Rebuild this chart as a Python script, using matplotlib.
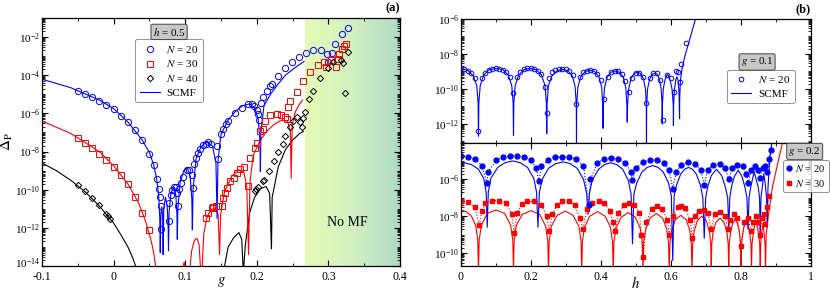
import numpy as np
import matplotlib
matplotlib.use("Agg")
import matplotlib.pyplot as plt
import matplotlib.transforms as mtransforms
from matplotlib.ticker import LogLocator, MultipleLocator, FuncFormatter, NullFormatter, LogFormatterSciNotation, FixedLocator
from matplotlib.colors import LinearSegmentedColormap

plt.rcParams['font.family'] = ['Liberation Serif', 'DejaVu Serif']
plt.rcParams['mathtext.fontset'] = 'stix'
plt.rcParams['axes.unicode_minus'] = False
plt.rcParams['font.size'] = 8

nan = np.nan

# ---------- panel (a): h = 0.5, values are log10(Delta_P) vs g ----------
a_n20 = [(-0.05, -4.80), (-0.04, -4.96), (-0.03, -5.14), (-0.02, -5.33), (-0.01, -5.54),
         (0.0, -5.78), (0.01, -6.12), (0.02, -6.47), (0.03, -6.85), (0.04, -7.40),
         (0.05, -8.11), (0.056, -8.69), (0.061, -9.44), (0.0634, -9.96), (0.0648, -10.38),
         (0.0657, -10.84), (0.0657, -12.07), (0.0769, -11.62), (0.0778, -10.71), (0.0797, -10.27),
         (0.082, -10.0), (0.0844, -9.88), (0.0872, -9.88), (0.089, -10.18), (0.0904, -10.84),
         (0.0918, -9.96), (0.0937, -9.65), (0.0965, -9.33), (0.1021, -8.95), (0.1058, -8.95),
         (0.110, -9.21), (0.1105, -9.91), (0.1128, -8.63), (0.1151, -8.33), (0.1184, -8.10),
         (0.1207, -7.89), (0.1245, -7.68), (0.1287, -7.58), (0.1324, -7.51), (0.1356, -7.58),
         (0.1440, -7.69), (0.1455, -8.38), (0.1501, -7.10), (0.1524, -6.80), (0.1566, -6.57),
         (0.1603, -6.40), (0.1696, -5.96), (0.1789, -5.70), (0.1882, -5.53), (0.1929, -5.53),
         (0.1961, -5.61), (0.1999, -5.82), (0.2022, -6.05), (0.2036, -6.37), (0.2059, -5.44),
         (0.2082, -5.16), (0.2138, -4.81), (0.2184, -4.54), (0.2208, -4.46), (0.2301, -4.02),
         (0.2394, -3.64), (0.2497, -3.28), (0.2590, -3.05), (0.2683, -2.81), (0.2790, -2.70),
         (0.2892, -2.70), (0.2976, -2.88), (0.2999, -3.30), (0.3046, -2.84), (0.3092, -2.35),
         (0.3185, -1.83), (0.3278, -1.51)]

a_n30 = [(-0.05, -7.31), (-0.04, -7.54), (-0.03, -7.80), (-0.02, -8.11), (-0.01, -8.46),
         (0.0, -8.80), (0.01, -9.22), (0.02, -9.71), (0.03, -10.37), (0.04, -11.20),
         (0.05, -12.13), (0.1291, -11.49), (0.1324, -11.23), (0.1370, -10.97), (0.1394, -10.91),
         (0.1431, -10.88), (0.1464, -10.84), (0.1510, -10.88), (0.1533, -10.44), (0.1557, -10.18),
         (0.1580, -9.91), (0.1626, -9.56), (0.1682, -9.39), (0.1720, -9.12), (0.1766, -8.91),
         (0.1822, -8.81), (0.1882, -9.79), (0.1906, -8.33), (0.1976, -7.81), (0.1999, -7.54),
         (0.2046, -6.93), (0.2091, -6.83), (0.2115, -6.40), (0.2184, -6.09), (0.2287, -6.04),
         (0.2334, -6.07), (0.2394, -6.21), (0.2427, -6.30), (0.2441, -5.65), (0.2464, -5.37),
         (0.2557, -4.86), (0.2650, -4.28), (0.2748, -3.84), (0.2850, -3.46), (0.2943, -3.28),
         (0.2966, -3.58), (0.3036, -3.18), (0.3106, -3.58), (0.3129, -3.14), (0.3153, -2.91),
         (0.3185, -2.61), (0.3213, -2.49), (0.3246, -2.35)]

a_n40 = [(-0.05, -9.77), (-0.04, -10.09), (-0.03, -10.46), (-0.02, -10.82), (-0.01, -11.26),
         (-0.008, -11.37), (-0.005, -11.53), (0.1975, -10.05), (0.1995, -9.95), (0.2015, -9.85),
         (0.2085, -9.55), (0.2100, -9.50), (0.2175, -9.00), (0.2240, -8.50), (0.2300, -8.00),
         (0.2360, -7.60), (0.2400, -7.20), (0.2470, -6.70), (0.2500, -6.40), (0.2560, -6.20),
         (0.2600, -6.45), (0.2625, -6.70), (0.2650, -6.25), (0.2680, -5.95), (0.2735, -5.25),
         (0.2790, -4.80), (0.2885, -4.13), (0.2990, -3.63), (0.3070, -3.30), (0.3170, -3.20),
         (0.3210, -3.35), (0.3232, -4.95), (0.3280, -2.78)]

a_mf20 = [(-0.100, -4.21), (-0.060, -4.65), (-0.020, -5.30), (0.000, -5.75), (0.020, -6.45),
          (0.040, -7.40), (0.050, -8.05), (0.056, -8.70), (0.060, -9.40), (0.0630, -10.3),
          (0.0645, -11.5), (0.0652, -13.3), (0.0660, -11.3), (0.0672, -10.9), (0.0685, -11.4),
          (0.0692, -13.4), (0.0700, -11.0), (0.0725, -10.4), (0.0750, -10.9), (0.0762, -12.0),
          (0.0767, -13.2), (0.0775, -11.2), (0.0800, -10.2), (0.0840, -9.85), (0.0870, -10.3),
          (0.0885, -11.3), (0.0890, -12.6), (0.0897, -11.0), (0.0930, -9.6), (0.0980, -9.0),
          (0.1030, -8.85), (0.1070, -9.3), (0.1093, -10.5), (0.1100, -12.1), (0.1110, -10.0),
          (0.1150, -8.4), (0.1220, -7.75), (0.1300, -7.5), (0.1380, -7.7), (0.1430, -8.6),
          (0.1445, -11.5), (0.1458, -8.5), (0.1500, -7.1), (0.1600, -6.35), (0.1700, -5.9),
          (0.1800, -5.6), (0.1900, -5.5), (0.1970, -5.7), (0.2020, -6.3), (0.2045, -7.5),
          (0.2050, -9.05), (0.2058, -7.0), (0.2100, -5.6), (0.2200, -4.95), (0.2300, -4.45),
          (0.2400, -4.0), (0.2500, -3.70), (0.2580, -3.48), (0.2660, -3.28)]

a_mf30 = [(-0.100, -6.40), (-0.060, -7.05), (-0.020, -8.0), (0.000, -8.75), (0.020, -9.7),
          (0.035, -10.7), (0.045, -11.7), (0.052, -12.6), (0.056, -13.3), (0.0595, -14.2),
          (nan, nan), (0.0965, -14.2), (0.0985, -13.8), (0.1005, -14.2),
          (nan, nan), (0.1065, -14.2), (0.1090, -13.2), (0.1130, -12.65), (0.1165, -12.55),
          (0.1195, -12.9), (0.1215, -14.2),
          (nan, nan), (0.1235, -14.2), (0.1260, -12.3), (0.1300, -11.5), (0.1360, -11.05),
          (0.1420, -10.95), (0.1460, -11.3), (0.1480, -13.4), (0.1495, -11.3), (0.1550, -10.1),
          (0.1650, -9.3), (0.1750, -8.95), (0.1820, -9.1), (0.1860, -9.8), (0.1885, -13.4),
          (0.1905, -9.6), (0.1950, -8.2), (0.2050, -7.4), (0.2150, -6.9), (0.2250, -6.55),
          (0.2350, -6.35), (0.2430, -6.4), (0.2470, -7.0), (0.2480, -9.4), (0.2495, -6.6),
          (0.2540, -5.9), (0.2600, -5.5), (0.2640, -5.3)]

a_mf40 = [(-0.100, -8.60), (-0.080, -9.0), (-0.060, -9.5), (-0.040, -10.1), (-0.020, -10.85),
          (0.000, -11.75), (0.010, -12.35), (0.020, -13.0), (0.027, -13.6), (0.0325, -14.2),
          (nan, nan), (0.1540, -14.2), (0.1600, -13.0), (0.1680, -12.5), (0.1750, -12.25),
          (0.1790, -12.6), (0.1810, -14.2),
          (nan, nan), (0.1815, -14.2), (0.1840, -12.9), (0.1900, -11.2), (0.1970, -10.4),
          (0.2050, -9.95), (0.2130, -9.83), (0.2180, -10.2), (0.2205, -13.1), (0.2215, -10.4),
          (0.2300, -8.8), (0.2400, -7.9), (0.2500, -7.4), (0.2600, -7.05), (0.2650, -6.95)]

no_mf_start = 0.267

# ---------- panel (b) top: g = 0.1, log10(Delta_P) vs h ----------
b1_n20 = [(0.00, -8.82), (0.01, -8.86), (0.02, -8.95), (0.03, -9.10), (0.04, -9.35),
          (0.05, -12.40), (0.06, -9.35), (0.07, -9.07), (0.08, -8.91), (0.09, -8.83),
          (0.10, -8.80), (0.11, -8.83), (0.12, -8.90), (0.13, -9.05), (0.14, -9.30),
          (0.15, -10.25), (0.16, -9.30), (0.17, -9.02), (0.18, -8.88), (0.19, -8.82),
          (0.20, -8.82), (0.21, -8.86), (0.22, -8.97), (0.23, -9.15), (0.24, -9.90),
          (0.245, -11.35), (0.252, -9.35), (0.26, -9.05), (0.27, -8.92), (0.28, -8.87),
          (0.29, -8.86), (0.30, -8.88), (0.31, -8.97), (0.32, -9.20), (0.33, -10.86),
          (0.34, -9.30), (0.35, -9.05), (0.36, -8.95), (0.37, -8.92), (0.38, -8.97),
          (0.39, -9.15), (0.40, -9.50), (0.41, -10.55), (0.42, -9.30), (0.43, -9.05),
          (0.44, -8.97), (0.45, -9.00), (0.46, -9.15), (0.47, -9.55), (0.48, -10.20),
          (0.49, -9.40), (0.50, -9.10), (0.51, -9.07), (0.52, -9.30), (0.53, -10.80),
          (0.54, -9.40), (0.55, -9.10), (0.56, -9.10), (0.57, -9.50), (0.578, -11.77),
          (0.59, -9.20), (0.60, -9.40), (0.61, -10.20), (0.615, -9.00), (0.62, -9.05),
          (0.625, -9.60), (0.63, -8.55), (0.643, -7.35)]

b1_mf = [(0.000, -8.82), (0.020, -8.95), (0.035, -9.25), (0.045, -9.8), (0.049, -10.8),
         (0.050, -12.7), (0.051, -10.8), (0.055, -9.8), (0.065, -9.2), (0.080, -8.90),
         (0.100, -8.82), (0.120, -8.90), (0.135, -9.2), (0.145, -9.8), (0.149, -10.8),
         (0.150, -12.65), (0.151, -10.8), (0.155, -9.8), (0.165, -9.2), (0.180, -8.9),
         (0.197, -8.82), (0.215, -8.9), (0.230, -9.2), (0.240, -9.8), (0.244, -10.8),
         (0.245, -12.55), (0.246, -10.8), (0.250, -9.8), (0.260, -9.25), (0.275, -8.95),
         (0.290, -8.88), (0.305, -8.95), (0.318, -9.25), (0.326, -9.85), (0.3295, -10.9),
         (0.330, -13.2), (0.3305, -10.9), (0.334, -9.9), (0.342, -9.3), (0.355, -9.0),
         (0.368, -8.92), (0.382, -9.0), (0.394, -9.3), (0.402, -9.9), (0.405, -10.9),
         (0.406, -12.25), (0.407, -10.9), (0.410, -9.95), (0.417, -9.35), (0.428, -9.05),
         (0.441, -8.97), (0.454, -9.05), (0.464, -9.35), (0.471, -9.95), (0.474, -10.9),
         (0.475, -11.9), (0.476, -10.9), (0.479, -10.0), (0.486, -9.4), (0.495, -9.1),
         (0.503, -9.05), (0.512, -9.1), (0.521, -9.4), (0.527, -10.0), (0.5295, -10.9),
         (0.530, -13.2), (0.5305, -10.9), (0.533, -10.0), (0.539, -9.45), (0.547, -9.15),
         (0.553, -9.1), (0.560, -9.15), (0.567, -9.45), (0.572, -10.0), (0.5745, -10.9),
         (0.575, -12.0), (0.5755, -10.9), (0.578, -10.0), (0.583, -9.45), (0.590, -9.15),
         (0.597, -9.45), (0.603, -10.0), (0.6065, -10.9), (0.607, -12.1), (0.6075, -10.9),
         (0.610, -10.0), (0.614, -9.45), (0.617, -9.3), (0.620, -9.5), (0.623, -10.2),
         (0.6245, -11.7), (0.625, -10.5), (0.627, -9.5), (0.632, -8.8), (0.640, -8.1),
         (0.650, -7.4), (0.660, -6.7), (0.670, -6.0), (0.680, -5.5)]

# ---------- panel (b) bottom: g = 0.2 ----------
b2_n20 = [(0.00, -4.72), (0.02, -4.76), (0.04, -4.90), (0.06, -5.25), (0.074, -6.2),
          (0.078, -5.6), (0.10, -4.95), (0.12, -4.78), (0.14, -4.72), (0.16, -4.72),
          (0.18, -4.78), (0.20, -4.95), (0.215, -5.4), (0.222, -6.1), (0.23, -5.3),
          (0.25, -4.95), (0.27, -4.80), (0.29, -4.76), (0.31, -4.80), (0.33, -4.92),
          (0.35, -5.25), (0.365, -7.4), (0.37, -6.0), (0.39, -5.1), (0.41, -4.88),
          (0.43, -4.85), (0.45, -4.90), (0.47, -5.1), (0.485, -5.6), (0.49, -6.05),
          (0.50, -5.4), (0.52, -5.05), (0.54, -4.95), (0.56, -4.95), (0.58, -5.1),
          (0.595, -5.5), (0.605, -6.5), (0.615, -5.6), (0.63, -5.2), (0.65, -5.08),
          (0.67, -5.15), (0.685, -5.5), (0.695, -6.3), (0.705, -5.5), (0.72, -5.2),
          (0.74, -5.15), (0.755, -5.4), (0.765, -6.0), (0.775, -5.4), (0.79, -5.2),
          (0.805, -5.3), (0.815, -5.7), (0.82, -6.2), (0.83, -5.5), (0.84, -5.3),
          (0.85, -5.5), (0.855, -5.9), (0.862, -5.4), (0.868, -5.25), (0.875, -5.6),
          (0.88, -4.9), (0.885, -4.4)]

b2_n30 = [(0.00, -7.17), (0.02, -7.24), (0.04, -7.5), (0.052, -8.5), (0.06, -7.7),
          (0.07, -7.3), (0.09, -7.15), (0.11, -7.15), (0.13, -7.3), (0.145, -7.9),
          (0.152, -8.9), (0.16, -7.8), (0.175, -7.35), (0.19, -7.2), (0.21, -7.2),
          (0.23, -7.4), (0.245, -8.0), (0.252, -8.8), (0.26, -7.9), (0.275, -7.4),
          (0.29, -7.2), (0.31, -7.2), (0.325, -7.4), (0.34, -8.1), (0.348, -8.7),
          (0.36, -7.6), (0.375, -7.3), (0.395, -7.2), (0.41, -7.3), (0.425, -7.7),
          (0.433, -8.3), (0.44, -8.8), (0.45, -7.8), (0.465, -7.4), (0.48, -7.3),
          (0.495, -7.4), (0.51, -7.8), (0.515, -9.0), (0.52, -10.2), (0.53, -8.3),
          (0.545, -7.6), (0.56, -7.45), (0.575, -7.6), (0.59, -8.2), (0.595, -9.0),
          (0.605, -8.0), (0.62, -7.5), (0.63, -7.45), (0.64, -7.55), (0.655, -8.2),
          (0.66, -9.2), (0.67, -8.0), (0.68, -7.7), (0.695, -7.65), (0.705, -7.85),
          (0.715, -8.7), (0.725, -7.9), (0.74, -7.75), (0.755, -8.0), (0.762, -8.7),
          (0.77, -8.2), (0.78, -7.9), (0.79, -8.1), (0.80, -9.6), (0.81, -8.3),
          (0.82, -8.1), (0.828, -8.8), (0.835, -8.3), (0.842, -8.0), (0.85, -8.3),
          (0.855, -9.0), (0.86, -8.1), (0.865, -7.9), (0.87, -8.4), (0.875, -7.5),
          (0.88, -6.9)]

b2_mf20 = [(0.000, -5.05), (0.030, -5.2), (0.050, -5.45), (0.065, -5.95), (0.072, -6.7),
           (0.075, -8.6), (0.078, -6.7), (0.085, -5.95), (0.105, -5.35), (0.125, -5.1),
           (0.148, -5.0), (0.170, -5.1), (0.190, -5.35), (0.208, -5.95), (0.216, -6.7),
           (0.220, -8.6), (0.224, -6.7), (0.232, -6.0), (0.250, -5.4), (0.270, -5.15),
           (0.292, -5.05), (0.312, -5.15), (0.332, -5.4), (0.350, -6.0), (0.359, -6.75),
           (0.363, -7.9), (0.367, -6.75), (0.375, -6.05), (0.393, -5.45), (0.410, -5.2),
           (0.427, -5.1), (0.445, -5.2), (0.462, -5.45), (0.478, -6.05), (0.486, -6.8),
           (0.490, -9.5), (0.494, -6.8), (0.502, -6.2), (0.517, -5.6), (0.532, -5.35),
           (0.548, -5.25), (0.563, -5.35), (0.578, -5.6), (0.593, -6.2), (0.601, -6.9),
           (0.605, -10.4), (0.609, -6.9), (0.616, -6.3), (0.628, -5.7), (0.639, -5.45),
           (0.650, -5.35), (0.661, -5.45), (0.672, -5.7), (0.684, -6.3), (0.691, -7.0),
           (0.695, -9.2), (0.699, -7.0), (0.705, -6.4), (0.715, -5.8), (0.730, -5.45),
           (0.745, -5.8), (0.755, -6.4), (0.762, -7.0), (0.765, -8.7), (0.768, -7.0),
           (0.773, -6.4), (0.781, -5.85), (0.792, -5.5), (0.803, -5.85), (0.811, -6.4),
           (0.817, -7.0), (0.820, -8.7), (0.823, -7.0), (0.828, -6.4), (0.834, -5.9),
           (0.8375, -5.6), (0.842, -5.9), (0.849, -6.4), (0.853, -7.0), (0.855, -9.2),
           (0.857, -7.0), (0.861, -6.4), (0.865, -5.7), (0.869, -6.2), (0.873, -7.0),
           (0.875, -8.6), (0.877, -6.5), (0.880, -5.5), (0.884, -4.6), (0.889, -3.9)]

b2_mf30 = [(0.000, -7.66), (0.015, -7.75), (0.030, -8.0), (0.042, -8.5), (0.048, -9.3),
           (0.050, -11), (0.052, -9.3), (0.058, -8.5), (0.075, -7.85), (0.100, -7.66),
           (0.125, -7.85), (0.142, -8.5), (0.148, -9.3), (0.150, -11), (0.152, -9.3),
           (0.158, -8.5), (0.175, -7.9), (0.200, -7.7), (0.225, -7.9), (0.242, -8.55),
           (0.248, -9.35), (0.250, -11), (0.252, -9.35), (0.258, -8.55), (0.275, -7.95),
           (0.298, -7.72), (0.320, -7.95), (0.337, -8.55), (0.343, -9.35), (0.345, -11),
           (0.347, -9.35), (0.353, -8.6), (0.368, -8.0), (0.390, -7.75), (0.412, -8.0),
           (0.427, -8.6), (0.433, -9.4), (0.435, -11), (0.437, -9.4), (0.443, -8.65),
           (0.458, -8.05), (0.478, -7.8), (0.498, -8.05), (0.512, -8.65), (0.518, -9.4),
           (0.520, -11), (0.522, -9.4), (0.528, -8.7), (0.540, -8.1), (0.558, -7.85),
           (0.576, -8.1), (0.588, -8.7), (0.593, -9.45), (0.595, -11), (0.597, -9.45),
           (0.602, -8.8), (0.612, -8.2), (0.628, -7.95), (0.644, -8.2), (0.654, -8.8),
           (0.658, -9.5), (0.660, -11), (0.662, -9.5), (0.666, -8.85), (0.675, -8.25),
           (0.688, -8.0), (0.701, -8.25), (0.710, -8.85), (0.7135, -9.5), (0.715, -11),
           (0.7165, -9.5), (0.720, -8.9), (0.728, -8.35), (0.740, -8.1), (0.752, -8.35),
           (0.760, -8.9), (0.7635, -9.5), (0.765, -11), (0.7665, -9.5), (0.770, -8.9),
           (0.776, -8.4), (0.783, -8.15), (0.790, -8.4), (0.796, -8.9), (0.7985, -9.5),
           (0.800, -11), (0.8015, -9.5), (0.805, -8.95), (0.810, -8.45), (0.815, -8.2),
           (0.820, -8.45), (0.825, -8.95), (0.8285, -9.5), (0.830, -11), (0.8315, -9.5),
           (0.835, -8.95), (0.839, -8.5), (0.8425, -8.25), (0.846, -8.5), (0.850, -8.95),
           (0.8535, -9.5), (0.855, -11), (0.8565, -9.5), (0.859, -8.9), (0.8625, -8.4),
           (0.866, -8.9), (0.869, -9.6), (0.870, -11), (0.872, -9.0), (0.878, -8.0),
           (0.890, -6.4), (0.907, -4.96), (0.920, -3.9)]

a_yticks = [1e-14, 1e-12, 1e-10, 1e-8, 1e-6, 1e-4, 1e-2]
b1_yticks = [1e-12, 1e-10, 1e-8, 1e-6]
b2_yticks = [1e-10, 1e-8, 1e-6]


def xy(pairs):
    arr = np.array(pairs, dtype=float)
    return arr[:, 0], 10.0 ** arr[:, 1]


def style_log_axis(ax, ymin, ymax, yticks, xmajor, xminor):
    ax.set_yscale('log')
    ax.set_ylim(ymin, ymax)
    ax.yaxis.set_major_locator(FixedLocator(yticks))
    ax.yaxis.set_major_formatter(LogFormatterSciNotation())
    ax.yaxis.set_minor_locator(LogLocator(base=10.0, subs=np.arange(1, 10) * 1.0, numticks=100))
    ax.yaxis.set_minor_formatter(NullFormatter())
    ax.xaxis.set_major_locator(MultipleLocator(xmajor))
    ax.xaxis.set_minor_locator(MultipleLocator(xminor))
    ax.xaxis.set_major_formatter(FuncFormatter(lambda v, _: f'{v:g}'))
    ax.tick_params(which='both', direction='in', top=True, right=True)
    ax.tick_params(axis='x', pad=3.5, labelsize=8.5)
    ax.tick_params(axis='y', pad=1.5, labelsize=8)
    ax.tick_params(which='major', length=4, width=0.8)
    ax.tick_params(which='minor', length=2.5, width=0.6)
    for s in ax.spines.values():
        s.set_linewidth(0.9)


def tag_box(ax, x, y, text):
    ax.text(x, y, text, transform=ax.transAxes, ha='center', va='center', fontsize=8,
            bbox=dict(boxstyle='round,pad=0.15', fc='#c8c8c8', ec='#444444', lw=0.7),
            zorder=10, clip_on=False)


fig = plt.figure(figsize=(8.3, 2.91), dpi=100)

# ---------------- panel (a) ----------------
ax = fig.add_axes([0.0506, 0.0859, 0.4313, 0.8522])
style_log_axis(ax, 1e-14, 1e-1, a_yticks, 0.1, 0.05)
ax.set_xlim(-0.1, 0.4)

cmap = LinearSegmentedColormap.from_list('nomf', ['#e4fab4', '#d2f0c0', '#b0dac6'])
edges = np.linspace(no_mf_start, 0.4, 81)
for i in range(80):
    ax.axvspan(edges[i], edges[i + 1], color=cmap(i / 79), lw=0, zorder=0)

ax.plot(*xy(a_mf40), color='black', lw=0.8, zorder=2)
ax.plot(*xy(a_mf30), color='red', lw=0.8, zorder=2)
ax.plot(*xy(a_mf20), color='blue', lw=0.8, zorder=2)
p20, = ax.plot(*xy(a_n20), 'o', ls='none', ms=4.5, color='blue', mfc='none', mew=0.7, zorder=3)
p30, = ax.plot(*xy(a_n30), 's', ls='none', ms=4.3, color='red', mfc='none', mew=0.7, zorder=3)
p40, = ax.plot(*xy(a_n40), 'D', ls='none', ms=3.2, color='black', mfc='none', mew=0.7, zorder=3)
lmf, = ax.plot([], [], color='blue', lw=0.8)

ax.text(0.852, 0.177, 'No MF', transform=ax.transAxes, ha='center', va='center', fontsize=10)
ax.set_xlabel('$g$', fontsize=10.5)
ax.xaxis.set_label_coords(0.5, -0.038)
ax.set_ylabel(r'$\Delta_{\rm P}$', fontsize=11)
ax.yaxis.set_label_coords(-0.075, 0.5)
ax.text(1.0, 1.015, '(a)', transform=ax.transAxes, ha='right', va='bottom',
        fontsize=9, fontweight='bold')
tag_box(ax, 0.355, 0.944, '$h$ = 0.5')
leg = ax.legend([p20, p30, p40, lmf], ['$N$ = 20', '$N$ = 30', '$N$ = 40', 'SCMF'],
                loc='upper left', bbox_to_anchor=(0.26, 0.915), fontsize=8, frameon=True,
                fancybox=True, handlelength=1.8, borderpad=0.4, labelspacing=0.35,
                handletextpad=0.6, borderaxespad=0)
leg.get_frame().set_edgecolor('#777777')
leg.get_frame().set_linewidth(0.7)
# nudge the lowest y label up a little so it clears the first x label
low_lab = ax.yaxis.get_major_ticks()[0].label1
low_lab.set_transform(low_lab.get_transform() +
                      mtransforms.ScaledTranslation(0, 3 / 72, fig.dpi_scale_trans))

# ---------------- panel (b) top ----------------
axt = fig.add_axes([0.5554, 0.5103, 0.4217, 0.4244])
style_log_axis(axt, 10 ** -13.06, 1e-6, b1_yticks, 0.2, 0.1)
axt.set_xlim(0, 1)
axt.tick_params(labelbottom=False)
axt.plot(*xy(b1_mf), color='blue', lw=0.8)
q20, = axt.plot(*xy(b1_n20), 'o', ls='none', ms=3.3, color='blue', mfc='none', mew=0.7)
qmf, = axt.plot([], [], color='blue', lw=0.8)
axt.text(1.0, 1.03, '(b)', transform=axt.transAxes, ha='right', va='bottom',
         fontsize=9, fontweight='bold')
tag_box(axt, 0.846, 0.652, '$g$ = 0.1')
leg = axt.legend([q20, qmf], ['$N$ = 20', 'SCMF'], loc='upper left',
                 bbox_to_anchor=(0.76, 0.59), fontsize=8, fancybox=True, handlelength=1.8,
                 borderpad=0.4, labelspacing=0.35, handletextpad=0.6, borderaxespad=0)
leg.get_frame().set_edgecolor('#777777')
leg.get_frame().set_linewidth(0.7)

# ---------------- panel (b) bottom ----------------
axb = fig.add_axes([0.5554, 0.0859, 0.4217, 0.4244])
style_log_axis(axb, 10 ** -10.7, 1e-4, b2_yticks, 0.2, 0.1)
axb.set_xlim(0, 1)
axb.plot(*xy(b2_mf30), color='red', lw=0.8)
axb.plot(*xy(b2_mf20), color='blue', lw=0.8)
r30, = axb.plot(*xy(b2_n30), 's', ls=':', lw=0.8, ms=3.3, color='red')
r20, = axb.plot(*xy(b2_n20), 'o', ls=':', lw=0.8, ms=3.5, color='blue')
axb.set_xlabel('$h$', fontsize=10.5)
axb.xaxis.set_label_coords(0.5, -0.075)
tag_box(axb, 0.982, 0.927, '$g$ = 0.2')
h20 = plt.Line2D([], [], marker='o', ls='none', ms=3.5, color='blue')
h30 = plt.Line2D([], [], marker='s', ls='none', ms=3.3, color='red')
leg = axb.legend([h20, h30], ['$N$ = 20', '$N$ = 30'], loc='upper left',
                 bbox_to_anchor=(0.92, 0.86), fontsize=7.5, fancybox=True, handlelength=0.6,
                 borderpad=0.3, labelspacing=0.35, handletextpad=0.3, borderaxespad=0)
leg.get_frame().set_edgecolor('#777777')
leg.get_frame().set_linewidth(0.7)
leg.set_zorder(10)

fig.savefig('out.png', dpi=100)
